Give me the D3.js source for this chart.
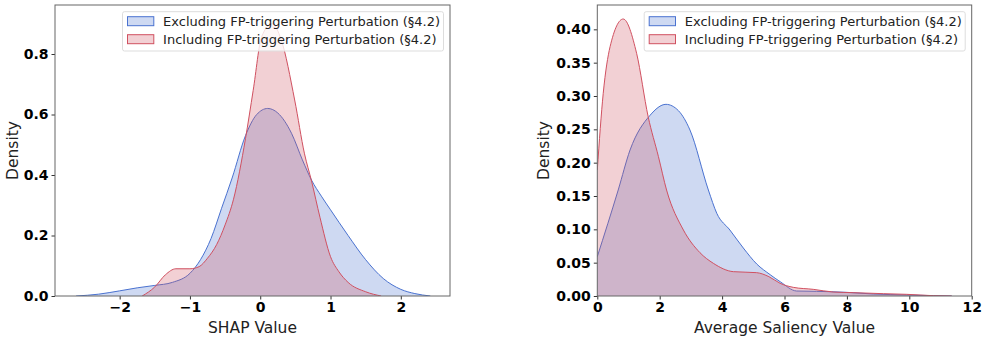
<!DOCTYPE html>
<html>
<head>
<meta charset="utf-8">
<script src="https://cdn.jsdelivr.net/npm/d3@7"></script>
<style>
  body { margin: 0; background: #fff; }
  svg { font-family: 'DejaVu Sans', sans-serif; }
</style>
</head>
<body>
<div id="chart"></div>
<script>
// left panel: SHAP value densities (x, density)
const shapExcl = [
  [-2.62, 0], [-2.3, 0.006], [-2.0, 0.017], [-1.75, 0.027], [-1.5, 0.035], [-1.25, 0.045],
  [-1.0, 0.075], [-0.85, 0.12], [-0.7, 0.19], [-0.55, 0.29], [-0.4, 0.39], [-0.21, 0.53],
  [-0.05, 0.6], [0.106, 0.62], [0.25, 0.605], [0.445, 0.538], [0.6, 0.45], [0.73, 0.383],
  [0.87, 0.33], [1.0, 0.285], [1.25, 0.2], [1.5, 0.12], [1.75, 0.058], [2.0, 0.022],
  [2.2, 0.008], [2.42, 0]
];
const shapIncl = [
  [-1.68, 0], [-1.5, 0.03], [-1.35, 0.07], [-1.2, 0.09], [-1.0, 0.09], [-0.87, 0.097],
  [-0.75, 0.125], [-0.62, 0.17], [-0.5, 0.235], [-0.38, 0.32], [-0.21, 0.52], [-0.1, 0.68],
  [0.02, 0.857], [0.17, 0.9], [0.3, 0.846], [0.49, 0.648], [0.63, 0.47], [0.73, 0.38],
  [0.85, 0.26], [1.0, 0.13], [1.12, 0.08], [1.25, 0.045], [1.5, 0.014], [1.72, 0]
];
// right panel: average saliency densities
const salExcl = [
  [0, 0.059], [0.67, 0.159], [1.05, 0.219], [1.69, 0.271], [2.2, 0.2875], [2.6, 0.278],
  [2.97, 0.249], [3.56, 0.159], [3.83, 0.124], [4.25, 0.099], [4.68, 0.072], [5.11, 0.048],
  [5.54, 0.032], [5.86, 0.0215], [6.39, 0.0075], [7.03, 0.007], [7.99, 0.0055], [8.85, 0.003],
  [9.92, 0.0015], [10.77, 0.0005], [11.36, 0]
];
const salIncl = [
  [0, 0.189], [0.19, 0.304], [0.41, 0.374], [0.83, 0.4155], [1.26, 0.364], [1.63, 0.269],
  [1.96, 0.209], [2.22, 0.159], [2.76, 0.099], [3.29, 0.065], [3.72, 0.049], [4.36, 0.0365],
  [5.11, 0.035], [5.5, 0.029], [5.86, 0.019], [6.28, 0.013], [6.92, 0.01], [7.56, 0.006],
  [8.2, 0.005], [9.17, 0.0035], [9.92, 0.0025], [10.77, 0.0005], [11.36, 0]
];
const shapTicksX = [-2, -1, 0, 1, 2];
const shapTicksY = [0, 0.2, 0.4, 0.6, 0.8];
const salTicksX = [0, 2, 4, 6, 8, 10, 12];
const salTicksY = [0, 0.05, 0.1, 0.15, 0.2, 0.25, 0.3, 0.35, 0.4];
const legendLabels = ['Excluding FP-triggering Perturbation (§4.2)', 'Including FP-triggering Perturbation (§4.2)'];

const colors = ['#4a72d0', '#d05060'];

const svg = d3.select('#chart').append('svg').attr('width', 987).attr('height', 339);

function panel(id, box, xDom, yDom, series, ticksX, ticksY, fmtY, xLabel, yLabelX) {
  const x = d3.scaleLinear().domain(xDom).range([box.l, box.r]);
  const y = d3.scaleLinear().domain(yDom).range([box.b, box.t]);

  svg.append('clipPath').attr('id', id).append('rect')
    .attr('x', box.l).attr('y', box.t).attr('width', box.r - box.l).attr('height', box.b - box.t);

  const g = svg.append('g').attr('clip-path', 'url(#' + id + ')');
  const area = d3.area().x(d => x(d[0])).y0(y(0)).y1(d => y(d[1])).curve(d3.curveMonotoneX);
  const line = d3.line().x(d => x(d[0])).y(d => y(d[1])).curve(d3.curveMonotoneX);
  series.forEach((s, i) => {
    g.append('path').attr('d', area(s)).attr('fill', colors[i]).attr('fill-opacity', 0.27);
    g.append('path').attr('d', line(s)).attr('fill', 'none').attr('stroke', colors[i]).attr('stroke-width', 1);
  });

  const xAxis = svg.append('g').attr('transform', 'translate(0,' + box.b + ')')
    .call(d3.axisBottom(x).tickValues(ticksX).tickSize(3.5).tickPadding(3).tickFormat(d => d < 0 ? '\u2212' + Math.abs(d) : d));
  const yAxis = svg.append('g').attr('transform', 'translate(' + box.l + ',0)')
    .call(d3.axisLeft(y).tickValues(ticksY).tickSize(3.5).tickPadding(3).tickFormat(fmtY));
  [xAxis, yAxis].forEach(a => {
    a.select('.domain').remove();
    a.selectAll('line').attr('stroke', '#333');
    a.selectAll('text').attr('font-family', 'DejaVu Sans').attr('font-size', 14)
      .attr('font-weight', 'bold').attr('fill', '#000');
  });

  svg.append('rect').attr('x', box.l).attr('y', box.t)
    .attr('width', box.r - box.l).attr('height', box.b - box.t)
    .attr('fill', 'none').attr('stroke', '#666').attr('stroke-width', 1);

  svg.append('text').attr('x', (box.l + box.r) / 2).attr('y', 333)
    .attr('text-anchor', 'middle').attr('font-size', 15.5).attr('fill', '#222').text(xLabel);
  svg.append('text').attr('transform', 'translate(' + yLabelX + ',' + (box.t + box.b) / 2 + ') rotate(-90)')
    .attr('text-anchor', 'middle').attr('font-size', 15.5).attr('fill', '#222').text('Density');

  // legend
  const lg = svg.append('g').attr('transform', 'translate(' + (box.r - 327.5) + ',' + (box.t + 6.7) + ')');
  lg.append('rect').attr('width', 321).attr('height', 39.3).attr('rx', 2)
    .attr('fill', '#fff').attr('fill-opacity', 0.8).attr('stroke', '#ddd');
  legendLabels.forEach((t, i) => {
    lg.append('rect').attr('x', 5).attr('y', 5 + i * 18).attr('width', 26.3).attr('height', 9)
      .attr('fill', colors[i]).attr('fill-opacity', 0.27).attr('stroke', colors[i]).attr('stroke-width', 1);
    lg.append('text').attr('x', 40.6).attr('y', 14.3 + i * 18).attr('font-size', 13)
      .attr('fill', '#222').text(t);
  });
}

panel('clipL', { l: 55, r: 450, t: 5, b: 296 }, [-2.92, 2.7], [0, 0.962],
  [shapExcl, shapIncl], shapTicksX, shapTicksY, d3.format('.1f'), 'SHAP Value', 18);
panel('clipR', { l: 597.3, r: 971.7, t: 5, b: 296 }, [0, 12], [0, 0.4365],
  [salExcl, salIncl], salTicksX, salTicksY, d3.format('.2f'), 'Average Saliency Value', 549);
</script>
</body>
</html>
